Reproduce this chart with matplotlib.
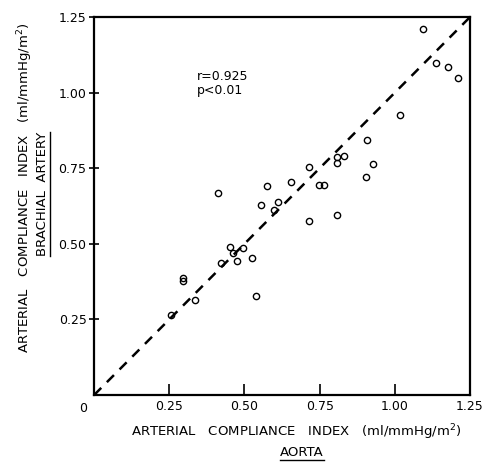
import matplotlib
matplotlib.use("Agg")
import matplotlib.pyplot as plt
from matplotlib.lines import Line2D

# data
aorta = [1.095, 1.137, 1.178, 1.209, 1.017, 0.909, 0.926, 0.904, 0.807, 0.807,
         0.831, 0.716, 0.656, 0.574, 0.747, 0.766, 0.413, 0.556, 0.598, 0.613,
         0.715, 0.807, 0.453, 0.461, 0.496, 0.474, 0.422, 0.525, 0.297, 0.297,
         0.337, 0.537, 0.256]
brachial = [1.212, 1.098, 1.085, 1.049, 0.927, 0.845, 0.765, 0.720, 0.787, 0.767,
            0.791, 0.754, 0.705, 0.691, 0.695, 0.695, 0.667, 0.627, 0.613, 0.638,
            0.575, 0.595, 0.489, 0.469, 0.485, 0.442, 0.438, 0.454, 0.386, 0.378,
            0.315, 0.326, 0.265]
ticks = [0.25, 0.50, 0.75, 1.00, 1.25]
tick_labels = ["0.25", "0.50", "0.75", "1.00", "1.25"]
identity = [0, 1.25]

plt.rcParams['font.family'] = ['DejaVu Sans']

fig = plt.figure(figsize=(4.88, 4.63), dpi=100)
ax = fig.add_axes([0.193, 0.147, 0.77, 0.816])

ax.plot(identity, identity, color='black', lw=1.8, linestyle=(0, (4, 3.2)))
ax.plot(aorta, brachial, 'o', mfc='none', mec='black', mew=1.0, ms=4.5)

ax.set_xlim(0, 1.25)
ax.set_ylim(0, 1.25)
ax.set_xticks(ticks)
ax.set_xticklabels(tick_labels)
ax.set_yticks(ticks)
ax.set_yticklabels(tick_labels)
ax.tick_params(axis='x', direction='in', length=8, width=1.2, labelsize=9, pad=4)
ax.tick_params(axis='y', direction='inout', length=7, width=1.2, labelsize=9, pad=2)
for s in ax.spines.values():
    s.set_linewidth(1.6)

ax.text(-0.02, -0.02, "0", transform=ax.transAxes, ha='right', va='top', fontsize=9)
ax.text(0.34, 1.03, "r=0.925\np<0.01", fontsize=9, va='center', linespacing=1.1)

fig.text(0.051, 0.594, "ARTERIAL   COMPLIANCE   INDEX   (ml/mmHg/m$^2$)",
         rotation=90, ha='center', va='center', fontsize=9.5)
bl = fig.text(0.088, 0.581, "BRACHIAL  ARTERY", rotation=90,
              ha='center', va='center', fontsize=9.5)
fig.text(0.607, 0.067, "ARTERIAL   COMPLIANCE   INDEX   (ml/mmHg/m$^2$)",
         ha='center', va='center', fontsize=9.5)
ao = fig.text(0.619, 0.022, "AORTA", ha='center', va='center', fontsize=9.5)

# underlines
fig.canvas.draw()
inv = fig.transFigure.inverted()
bb = bl.get_window_extent().transformed(inv)
fig.add_artist(Line2D([bb.x1 + 0.002, bb.x1 + 0.002], [bb.y0, bb.y1],
                      color='black', lw=1, transform=fig.transFigure))
bb = ao.get_window_extent().transformed(inv)
fig.add_artist(Line2D([bb.x0, bb.x1], [bb.y0 - 0.002, bb.y0 - 0.002],
                      color='black', lw=1, transform=fig.transFigure))

fig.savefig("out.png", dpi=100)
